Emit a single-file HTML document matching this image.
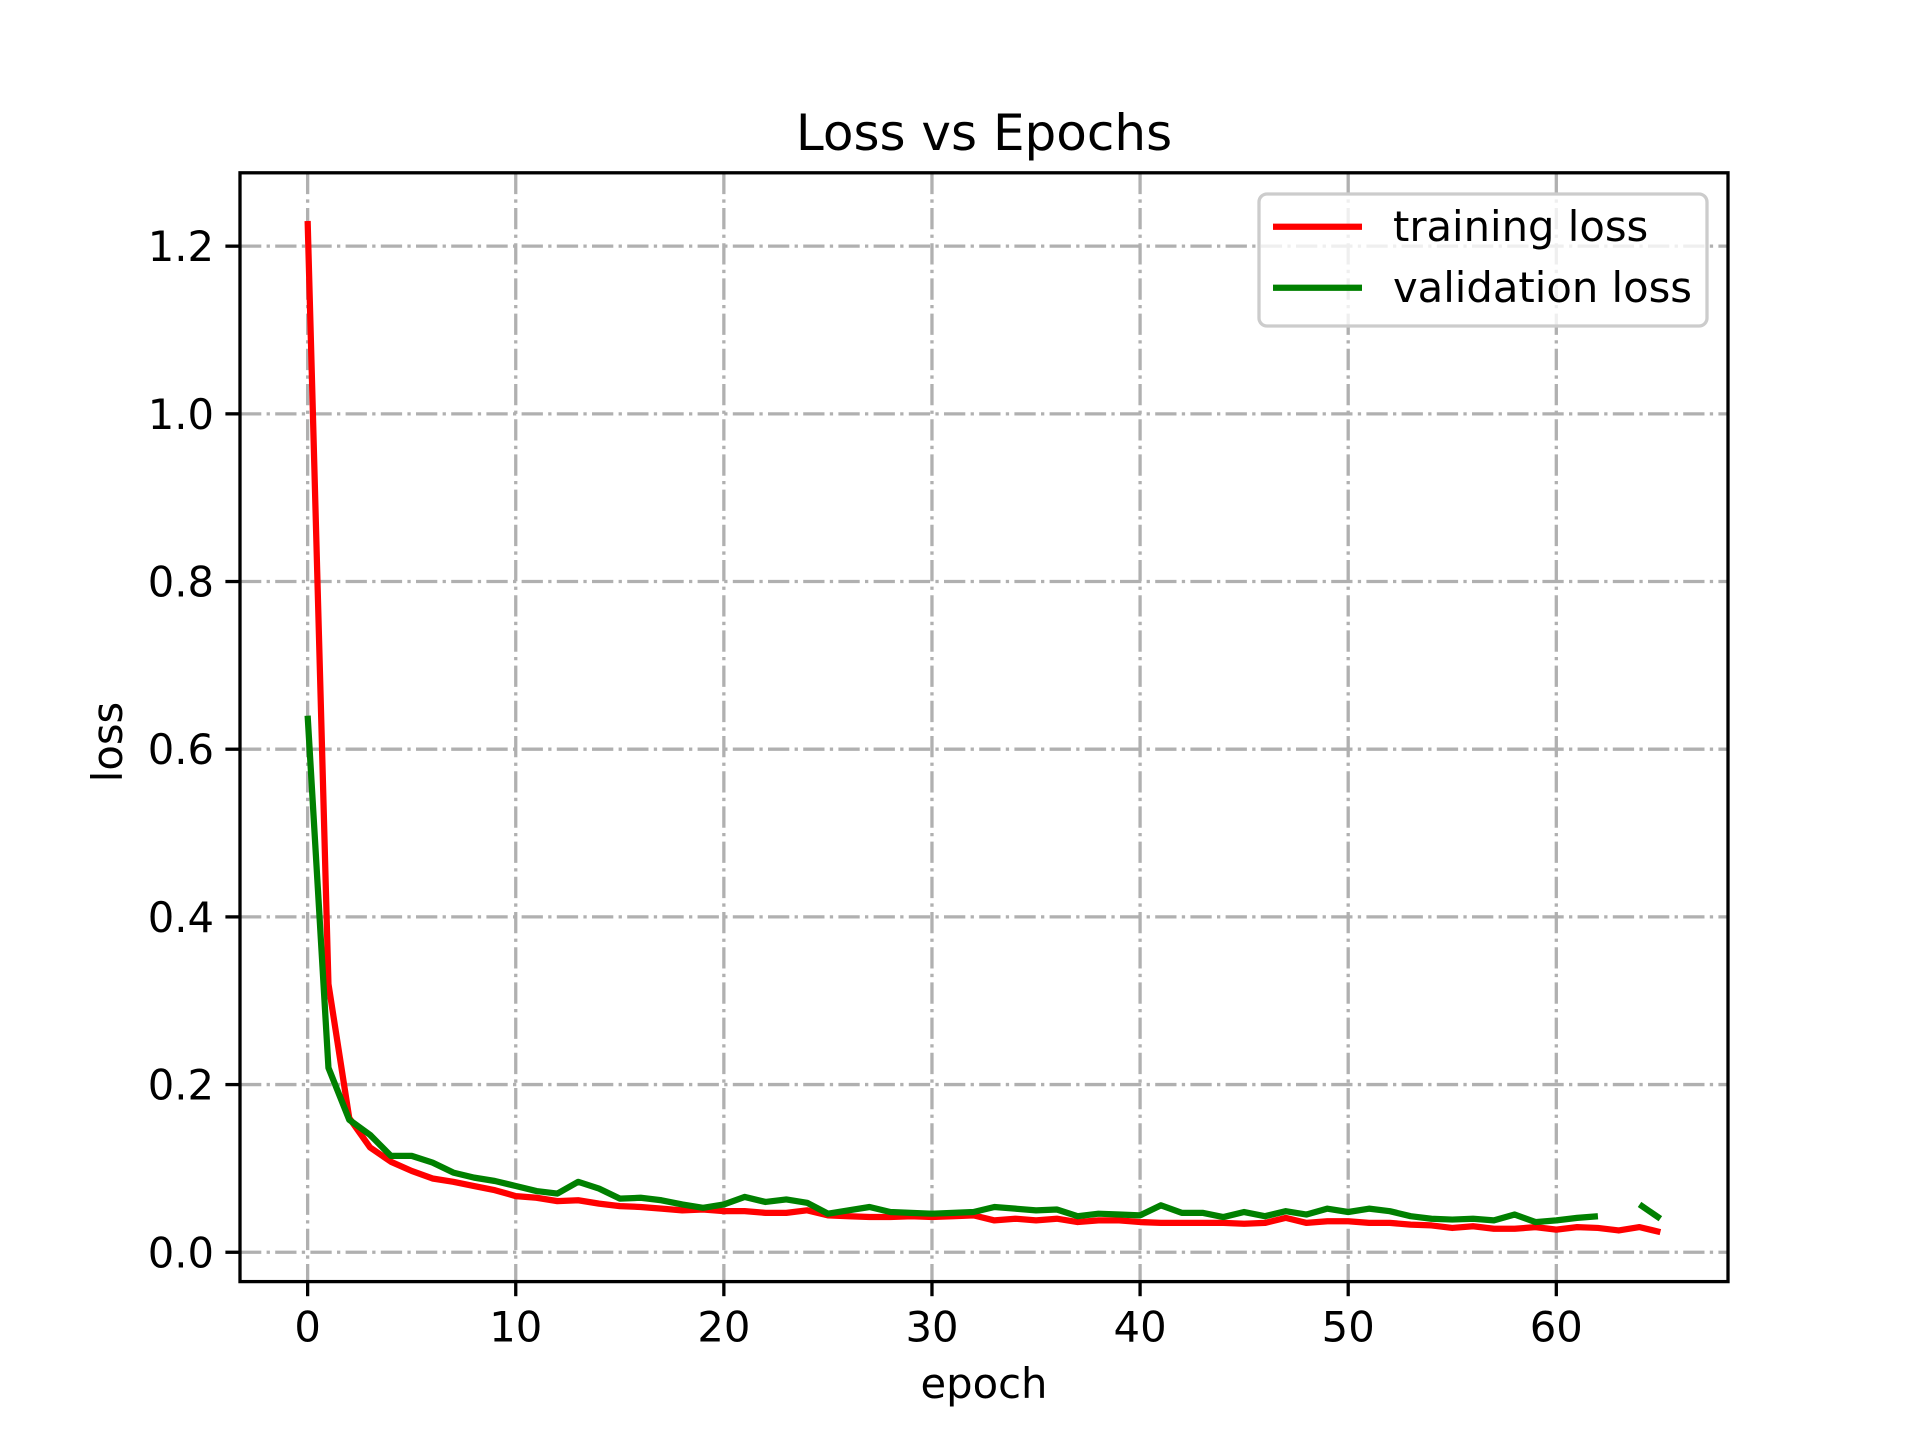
<!DOCTYPE html>
<html><head><meta charset="utf-8"><style>
html,body{margin:0;padding:0;background:#fff;}
svg text{font-family:"DejaVu Sans","Liberation Sans",sans-serif;fill:#000;}
</style></head><body>
<svg id="chart" width="1920" height="1440" viewBox="0 0 1920 1440" xmlns="http://www.w3.org/2000/svg">
<rect width="1920" height="1440" fill="#fff"/>
<g id="grid"></g>
<g id="series"></g>
<g id="axes"></g>
<text x="984" y="150" font-size="50" text-anchor="middle">Loss vs Epochs</text>
<text x="984" y="1398" font-size="41.7" text-anchor="middle">epoch</text>
<text x="0" y="0" font-size="41.7" text-anchor="middle" transform="translate(122,742) rotate(-90)">loss</text>
<g>
<rect x="1259" y="194" width="448" height="132" rx="8" fill="#fff" fill-opacity="0.8" stroke="#cccccc" stroke-width="3.3"/>
<line x1="1273" y1="226.7" x2="1362" y2="226.7" stroke="#ff0000" stroke-width="6.25"/>
<text x="1393" y="241" font-size="41.7">training loss</text>
<line x1="1273" y1="287.7" x2="1362" y2="287.7" stroke="#008000" stroke-width="6.25"/>
<text x="1393" y="302" font-size="41.7">validation loss</text>
</g>
</svg>
<script>
const epochs = Array.from({length:66},(_, i)=>i);
const trainLoss = [1.23,0.32,0.16,0.125,0.108,0.097,0.088,0.084,0.079,0.074,0.067,0.065,0.061,0.062,0.058,0.055,0.054,0.052,0.05,0.051,0.049,0.049,0.047,0.047,0.05,0.044,0.043,0.042,0.042,0.043,0.042,0.043,0.044,0.038,0.04,0.038,0.04,0.036,0.038,0.038,0.036,0.035,0.035,0.035,0.035,0.034,0.035,0.041,0.035,0.037,0.037,0.035,0.035,0.033,0.032,0.029,0.031,0.028,0.028,0.03,0.027,0.03,0.029,0.026,0.03,0.024];
const valLoss = [0.64,0.22,0.158,0.14,0.115,0.115,0.107,0.095,0.089,0.085,0.079,0.073,0.07,0.084,0.076,0.064,0.065,0.062,0.057,0.053,0.057,0.066,0.06,0.063,0.059,0.046,0.05,0.054,0.048,0.047,0.046,0.047,0.048,0.054,0.052,0.05,0.051,0.043,0.046,0.045,0.044,0.056,0.047,0.047,0.042,0.048,0.043,0.049,0.045,0.052,0.048,0.052,0.049,0.043,0.04,0.039,0.04,0.038,0.045,0.036,0.038,0.041,0.043,null,0.057,0.04];
const xTicks = [0,10,20,30,40,50,60];
const yTicks = [0.0,0.2,0.4,0.6,0.8,1.0,1.2];
const yTickLabels = ["0.0","0.2","0.4","0.6","0.8","1.0","1.2"];

const L=240,R=1728,T=172.8,B=1281.6;
const xMin=-3.25,xMax=68.25,yMin=-0.035,yMax=1.2875;
const sx=v=>L+(v-xMin)/(xMax-xMin)*(R-L);
const sy=v=>B-(v-yMin)/(yMax-yMin)*(B-T);
const NS="http://www.w3.org/2000/svg";
function mk(tag,parent,attrs){const e=document.createElementNS(NS,tag);for(const k in attrs)e.setAttribute(k,attrs[k]);parent.appendChild(e);return e;}
const grid=document.getElementById('grid'),axes=document.getElementById('axes'),series=document.getElementById('series');
const dash="21.3 5.3 3.3 5.3";
xTicks.forEach(t=>{
  const x=sx(t);
  const g=mk('line',grid,{x1:x,y1:T,x2:x,y2:B,stroke:'#b0b0b0','stroke-width':3.3,'stroke-dasharray':dash});
  
  
  const tk=mk('line',axes,{x1:x,y1:B,x2:x,y2:B+14.6,stroke:'#000','stroke-width':3.3});
  
  
  const tx=mk('text',axes,{x:x,y:B+60,'font-size':41.7,'text-anchor':'middle'});
  tx.textContent=t;
  
  
});
yTicks.forEach((t,i)=>{
  const y=sy(t);
  const g=mk('line',grid,{x1:L,y1:y,x2:R,y2:y,stroke:'#b0b0b0','stroke-width':3.3,'stroke-dasharray':dash});
  
  
  const tk=mk('line',axes,{x1:L-14.6,y1:y,x2:L,y2:y,stroke:'#000','stroke-width':3.3});
  
  
  const tx=mk('text',axes,{x:L-26,y:y+15,'font-size':41.7,'text-anchor':'end'});
  tx.textContent=yTickLabels[i];
  
  
});
const frame=mk('rect',axes,{x:L,y:T,width:R-L,height:B-T,fill:'none',stroke:'#000','stroke-width':3.3});


function pathFor(vals){let d='',pen=false;vals.forEach((v,i)=>{if(v===null||v===undefined){pen=false;return;}d+=(pen?'L':'M')+sx(epochs[i]).toFixed(2)+','+sy(v).toFixed(2)+' ';pen=true;});return d;}
const pt=mk('path',series,{d:pathFor(trainLoss),fill:'none',stroke:'#ff0000','stroke-width':6.25,'stroke-linejoin':'round'});


const pv=mk('path',series,{d:pathFor(valLoss),fill:'none',stroke:'#008000','stroke-width':6.25,'stroke-linejoin':'round'});


</script>
</body></html>
